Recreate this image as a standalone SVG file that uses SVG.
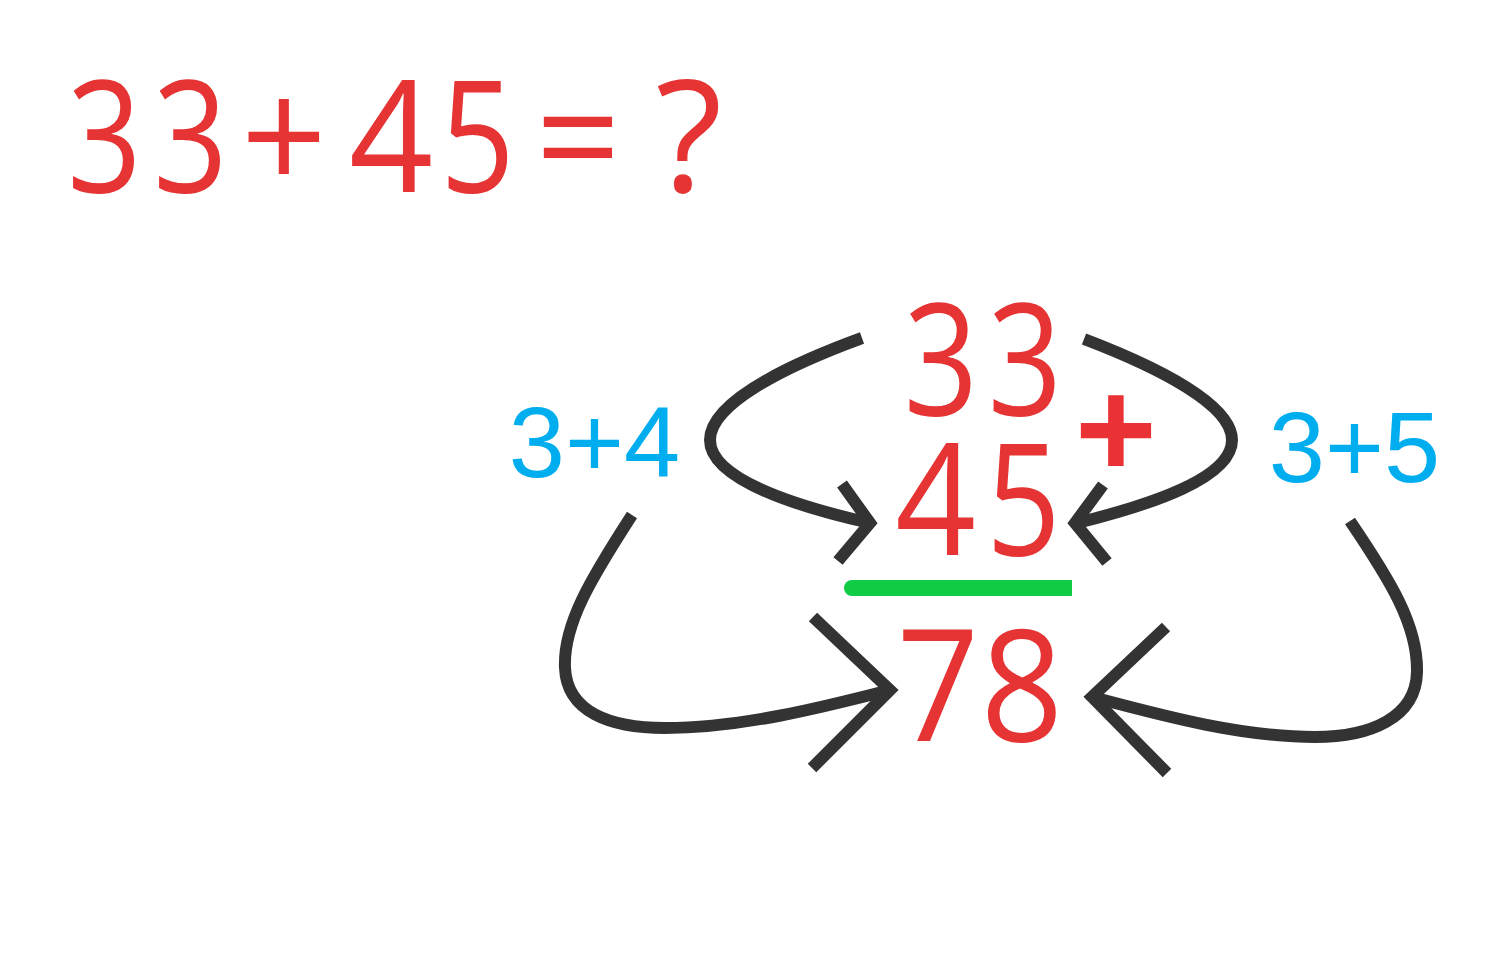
<svg xmlns="http://www.w3.org/2000/svg" width="1502" height="958" viewBox="0 0 1502 958">
<style>
.red{fill:#e63333;font-family:"Open Sans","Noto Sans",sans-serif;font-size:155px;text-anchor:middle}
.blue{fill:#00adee;font-family:"Liberation Sans",Arial,sans-serif;font-size:101px;text-anchor:middle}
.plus{fill:#ea3136;font-family:"Liberation Sans",Arial,sans-serif;font-size:140px;font-weight:bold;text-anchor:middle}
.arr{fill:none;stroke:#333333;stroke-width:12;stroke-linecap:butt;stroke-linejoin:miter;stroke-miterlimit:10}
</style>
<rect width="1502" height="958" fill="#ffffff"/>
<g id="equation">
<text class="red" transform="translate(104.5,192) scale(0.84,1)">3</text>
<text class="red" transform="translate(190.5,192) scale(0.84,1)">3</text>
<text class="red" transform="translate(284,192) scale(0.97,1)">+</text>
<text class="red" transform="translate(391,192) scale(0.95,1)">4</text>
<text class="red" transform="translate(477.5,192) scale(0.84,1)">5</text>
<text class="red" transform="translate(578,192) scale(0.96,1)">=</text>
<text class="red" transform="translate(689,192) scale(1,1)">?</text>
</g>
<g id="n33">
<text class="red" transform="translate(941,415) scale(0.84,1)">3</text>
<text class="red" transform="translate(1025,415) scale(0.84,1)">3</text>
</g>
<g id="n45">
<text class="red" transform="translate(935.5,555) scale(0.91,1)">4</text>
<text class="red" transform="translate(1023.5,555) scale(0.84,1)">5</text>
</g>
<g id="n78">
<text class="red" transform="translate(938,741) scale(0.93,1)">7</text>
<text class="red" transform="translate(1022,741) scale(0.93,1)">8</text>
</g>
<g id="plus"><text class="plus" x="1116" y="477">+</text></g>
<g id="sum34"><text class="blue" x="594.5" y="477">3+4</text></g>
<g id="sum35"><text class="blue" x="1354.5" y="482">3+5</text></g>
<g id="line"><path d="M852,580 H1072 V596 H852 A8,8 0 0 1 852,580 Z" fill="#10cc44"/></g>
<g id="connectors">
<path class="arr" d="M862,338 C780,368 710,405 710,440 C710,478 790,505 870,523"/>
<path class="arr" d="M842,484 L870,523 L838,561"/>
<path class="arr" d="M1084,339 C1160,368 1232,405 1232,440 C1232,478 1150,505 1077,523"/>
<path class="arr" d="M1103,485 L1075,523 L1107,562"/>
<path class="arr" d="M632,515 C590,580 563,625 565,668 C567,712 610,728 665,728 C740,728 820,708 890,690"/>
<path class="arr" d="M813,617 L890,690 L812,768"/>
<path class="arr" d="M1350,521 C1390,580 1418,625 1417,672 C1416,718 1370,737 1315,737 C1240,737 1160,715 1092,697"/>
<path class="arr" d="M1166,627 L1092,697 L1167,773"/>
</g>
</svg>
